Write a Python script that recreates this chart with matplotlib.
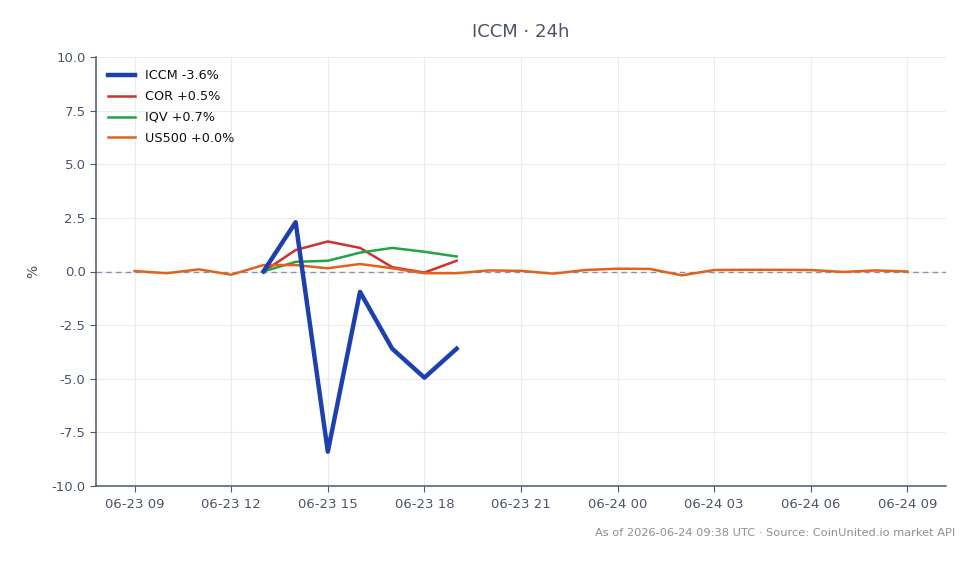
import matplotlib.pyplot as plt
import matplotlib.dates as mdates
import pandas as pd

# Hourly timestamps (UTC)
hours = pd.date_range("2026-06-23 09:00", "2026-06-24 09:00", freq="h")
short_hours = pd.date_range("2026-06-23 13:00", "2026-06-23 19:00", freq="h")

iccm = [0.0, 2.3, -8.4, -0.95, -3.6, -4.95, -3.6]
cor = [0.0, 1.0, 1.4, 1.1, 0.2, -0.05, 0.5]
iqv = [0.0, 0.45, 0.5, 0.88, 1.1, 0.92, 0.7]
us500 = [0.02, -0.08, 0.1, -0.15, 0.3, 0.3, 0.15, 0.35, 0.15, -0.08, -0.08,
         0.05, 0.03, -0.1, 0.07, 0.13, 0.12, -0.18, 0.07, 0.08, 0.08, 0.07,
         -0.02, 0.05, 0.0]

title = "ICCM \u00b7 24h"
footer = "As of 2026-06-24 09:38 UTC \u00b7 Source: CoinUnited.io market API"

text_color = "#4a5568"
spine_color = "#4a5a70"


def main():
    fig = plt.figure(figsize=(9.78, 5.64), dpi=100)
    ax = fig.add_axes([96 / 978, 1 - 486 / 564, 850 / 978, 429 / 564])

    ax.plot(short_hours, iccm, color="#1e40af", lw=3.2,
            label=f"ICCM {iccm[-1]:+.1f}%", zorder=5)
    ax.plot(short_hours, cor, color="#d32f2f", lw=1.8,
            label=f"COR {cor[-1]:+.1f}%", zorder=3)
    ax.plot(short_hours, iqv, color="#22a447", lw=1.8,
            label=f"IQV {iqv[-1]:+.1f}%", zorder=3)
    ax.plot(hours, us500, color="#e0621c", lw=1.8,
            label=f"US500 {us500[-1]:+.1f}%", zorder=4)

    ax.axhline(0, color="#8a94a8", lw=1, ls=(0, (4, 3)), zorder=2)

    pad = pd.Timedelta(minutes=72)
    ax.set_xlim(hours[0] - pad, hours[-1] + pad)
    ax.set_ylim(-10, 10)
    ax.set_yticks([-10, -7.5, -5, -2.5, 0, 2.5, 5, 7.5, 10])
    ax.yaxis.set_major_formatter(plt.FuncFormatter(lambda v, p: f"{v:.1f}"))

    ax.xaxis.set_major_locator(mdates.HourLocator(byhour=range(0, 24, 3)))
    ax.xaxis.set_major_formatter(mdates.DateFormatter("%m-%d %H"))

    ax.grid(True, color="#e8ebf0", lw=0.8)
    ax.set_axisbelow(True)
    for side in ("top", "right"):
        ax.spines[side].set_visible(False)
    for side in ("left", "bottom"):
        ax.spines[side].set_color(spine_color)
        ax.spines[side].set_linewidth(1.1)
    ax.tick_params(colors=spine_color, labelcolor=text_color, labelsize=9.5,
                   length=4)
    ax.tick_params(axis="x", pad=5)

    ax.set_ylabel("%", color=text_color, fontsize=10, labelpad=8)

    leg = ax.legend(loc="upper left", frameon=False, fontsize=9.2,
                    handlelength=2.1, borderaxespad=0.55, labelspacing=0.62)
    for t in leg.get_texts():
        t.set_color("#111111")

    fig.text(521 / 978, 1 - 32 / 564, title, ha="center", va="center",
             fontsize=13, color=text_color)
    fig.text(955 / 978, 1 - 533 / 564, footer, ha="right", va="center",
             fontsize=8.2, color="#8a8f99")

    fig.savefig("out.png", dpi=100)


if __name__ == "__main__":
    main()
